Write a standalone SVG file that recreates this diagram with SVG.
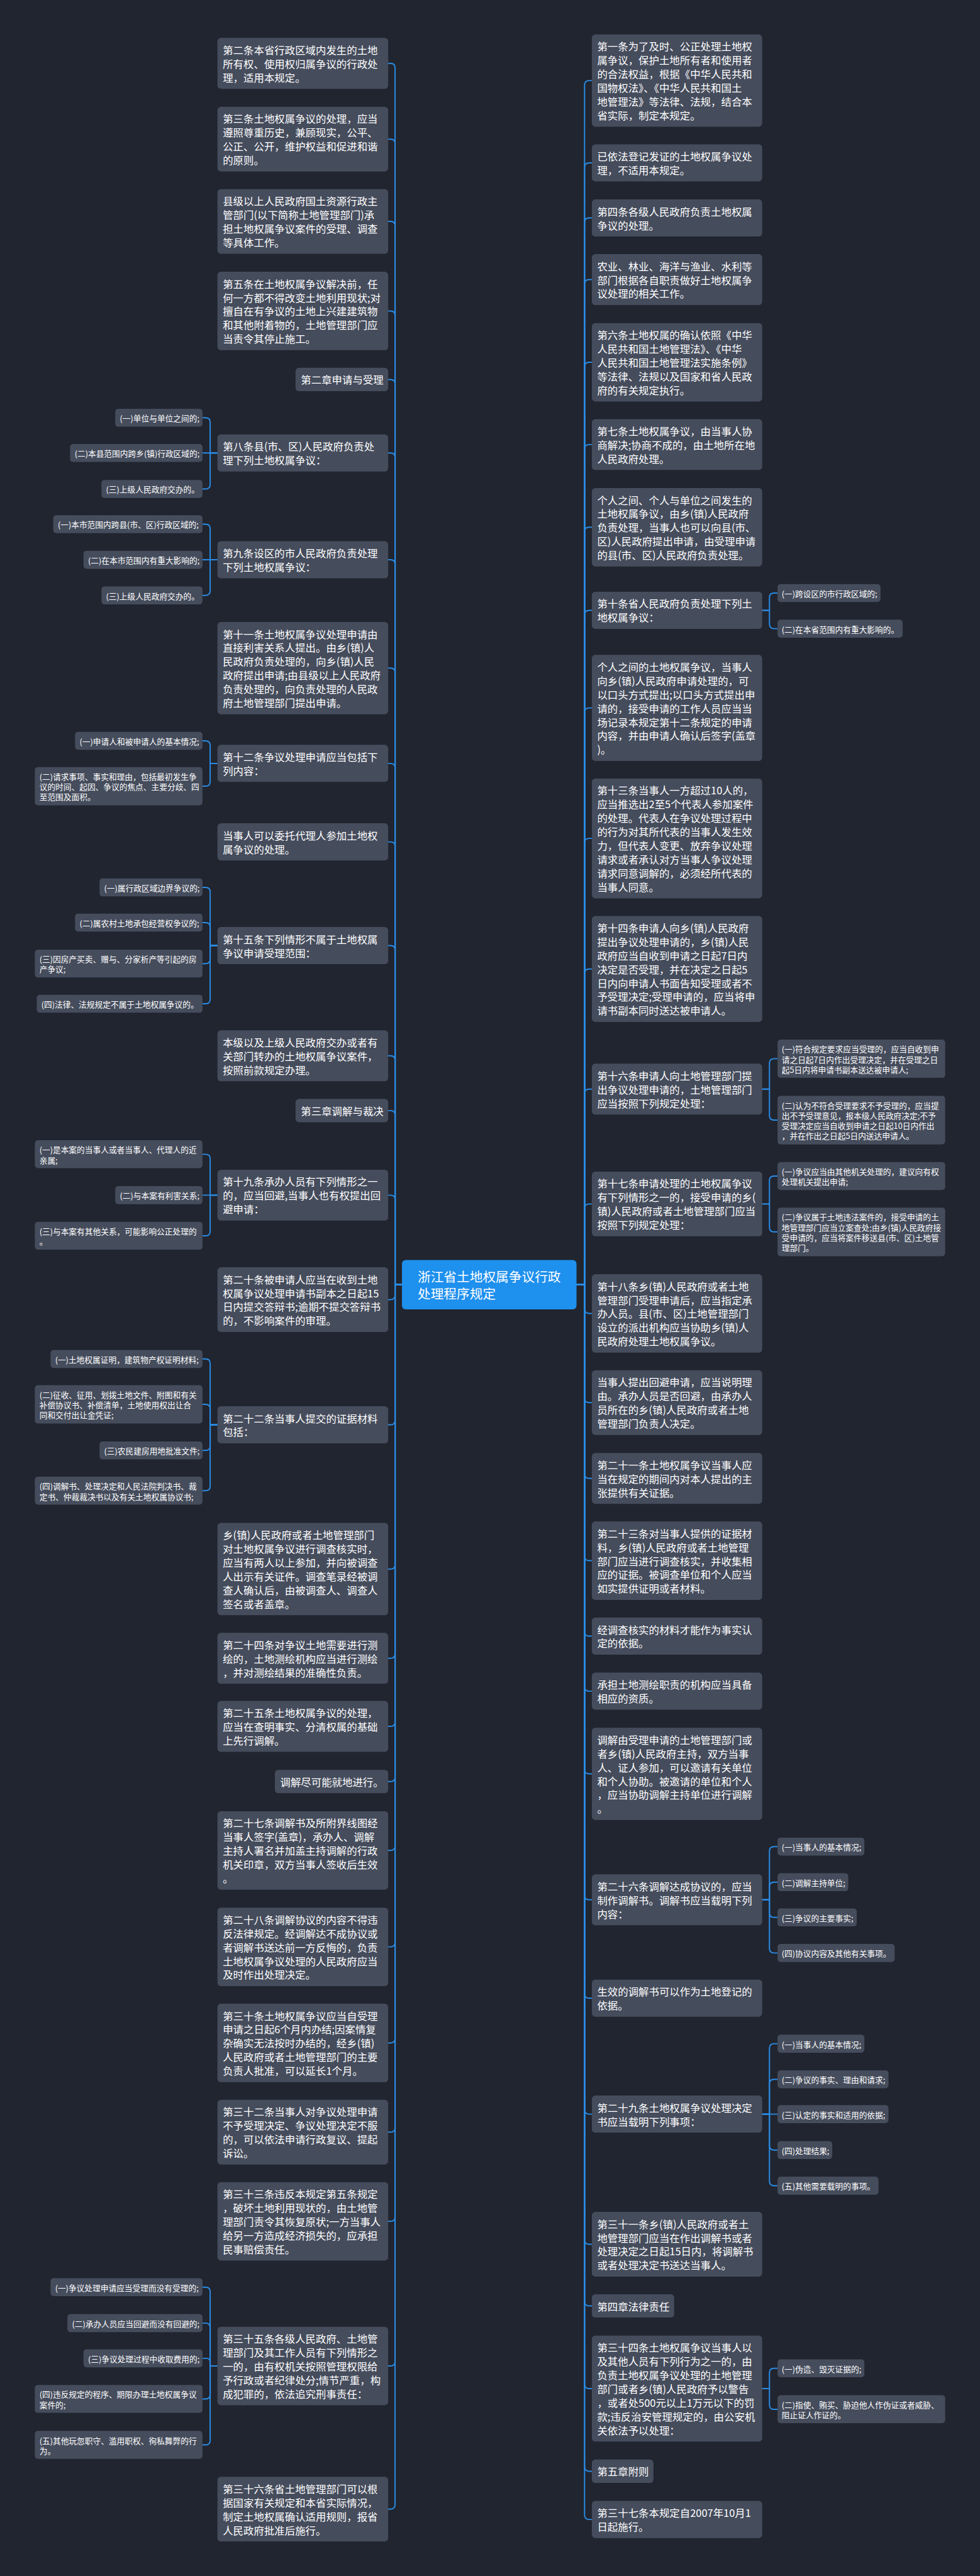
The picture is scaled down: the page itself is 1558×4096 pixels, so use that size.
<svg xmlns="http://www.w3.org/2000/svg" width="1558" height="4096" viewBox="0 0 1558 4096">
<style>
.bg{fill:#21252f}
.n{fill:#454c5c}
.cn{fill:#1e90ee}
.t{font-family:'Noto Sans CJK SC','Noto Sans',sans-serif;font-size:27px;fill:#ffffff;dominant-baseline:central}
.lt{font-family:'Noto Sans CJK SC','Noto Sans',sans-serif;font-size:20.9px;fill:#ffffff;dominant-baseline:central}
.ct{font-family:'Noto Sans CJK SC','Noto Sans',sans-serif;font-size:34px;fill:#ffffff;dominant-baseline:central}
.c{fill:none;stroke:#2a8ce6;stroke-width:3.2;stroke-linecap:round;stroke-linejoin:round}
</style>
<rect class="bg" x="0" y="0" width="1558" height="4096"/>
<g transform="scale(0.6086)">
<g id="connectors">
<path class="c" d="M1050 3356H1032V177.5Q1032 165.5 1020 165.5H1014"/>
<path class="c" d="M1050 3356H1032V375.5Q1032 363.5 1020 363.5H1014"/>
<path class="c" d="M1050 3356H1032V590.5Q1032 578.5 1020 578.5H1014"/>
<path class="c" d="M1050 3356H1032V824.5Q1032 812.5 1020 812.5H1014"/>
<path class="c" d="M1050 3356H1032V1003.5Q1032 991.5 1020 991.5H1014"/>
<path class="c" d="M1050 3356H1032V1195.5Q1032 1183.5 1020 1183.5H1014"/>
<path class="c" d="M1050 3356H1032V1474.5Q1032 1462.5 1020 1462.5H1014"/>
<path class="c" d="M1050 3356H1032V1757.5Q1032 1745.5 1020 1745.5H1014"/>
<path class="c" d="M1050 3356H1032V2006.5Q1032 1994.5 1020 1994.5H1014"/>
<path class="c" d="M1050 3356H1032V2211.5Q1032 2199.5 1020 2199.5H1014"/>
<path class="c" d="M1050 3356H1032V2482.5Q1032 2470.5 1020 2470.5H1014"/>
<path class="c" d="M1050 3356H1032V2770.5Q1032 2758.5 1020 2758.5H1014"/>
<path class="c" d="M1050 3356H1032V2913.5Q1032 2901.5 1020 2901.5H1014"/>
<path class="c" d="M1050 3356H1032V3134.5Q1032 3122.5 1020 3122.5H1014"/>
<path class="c" d="M1050 3356H1032V3383.5Q1032 3395.5 1020 3395.5H1014"/>
<path class="c" d="M1050 3356H1032V3710.5Q1032 3722.5 1020 3722.5H1014"/>
<path class="c" d="M1050 3356H1032V4087.5Q1032 4099.5 1020 4099.5H1014"/>
<path class="c" d="M1050 3356H1032V4320.5Q1032 4332.5 1020 4332.5H1014"/>
<path class="c" d="M1050 3356H1032V4498.5Q1032 4510.5 1020 4510.5H1014"/>
<path class="c" d="M1050 3356H1032V4642.5Q1032 4654.5 1020 4654.5H1014"/>
<path class="c" d="M1050 3356H1032V4822.5Q1032 4834.5 1020 4834.5H1014"/>
<path class="c" d="M1050 3356H1032V5074.5Q1032 5086.5 1020 5086.5H1014"/>
<path class="c" d="M1050 3356H1032V5325.5Q1032 5337.5 1020 5337.5H1014"/>
<path class="c" d="M1050 3356H1032V5558.5Q1032 5570.5 1020 5570.5H1014"/>
<path class="c" d="M1050 3356H1032V5791.5Q1032 5803.5 1020 5803.5H1014"/>
<path class="c" d="M1050 3356H1032V6169.5Q1032 6181.5 1020 6181.5H1014"/>
<path class="c" d="M1050 3356H1032V6543.5Q1032 6555.5 1020 6555.5H1014"/>
<path class="c" d="M1506 3356H1527V222.5Q1527 210.5 1539 210.5H1546"/>
<path class="c" d="M1506 3356H1527V437.5Q1527 425.5 1539 425.5H1546"/>
<path class="c" d="M1506 3356H1527V581.5Q1527 569.5 1539 569.5H1546"/>
<path class="c" d="M1506 3356H1527V742.5Q1527 730.5 1539 730.5H1546"/>
<path class="c" d="M1506 3356H1527V958.5Q1527 946.5 1539 946.5H1546"/>
<path class="c" d="M1506 3356H1527V1173.5Q1527 1161.5 1539 1161.5H1546"/>
<path class="c" d="M1506 3356H1527V1389.5Q1527 1377.5 1539 1377.5H1546"/>
<path class="c" d="M1506 3356H1527V1606.5Q1527 1594.5 1539 1594.5H1546"/>
<path class="c" d="M1506 3356H1527V1861.5Q1527 1849.5 1539 1849.5H1546"/>
<path class="c" d="M1506 3356H1527V2202.5Q1527 2190.5 1539 2190.5H1546"/>
<path class="c" d="M1506 3356H1527V2543.5Q1527 2531.5 1539 2531.5H1546"/>
<path class="c" d="M1506 3356H1527V2857.5Q1527 2845.5 1539 2845.5H1546"/>
<path class="c" d="M1506 3356H1527V3157.5Q1527 3145.5 1539 3145.5H1546"/>
<path class="c" d="M1506 3356H1527V3419.5Q1527 3431.5 1539 3431.5H1546"/>
<path class="c" d="M1506 3356H1527V3652.5Q1527 3664.5 1539 3664.5H1546"/>
<path class="c" d="M1506 3356H1527V3850.5Q1527 3862.5 1539 3862.5H1546"/>
<path class="c" d="M1506 3356H1527V4065.5Q1527 4077.5 1539 4077.5H1546"/>
<path class="c" d="M1506 3356H1527V4262.5Q1527 4274.5 1539 4274.5H1546"/>
<path class="c" d="M1506 3356H1527V4406.5Q1527 4418.5 1539 4418.5H1546"/>
<path class="c" d="M1506 3356H1527V4622.5Q1527 4634.5 1539 4634.5H1546"/>
<path class="c" d="M1506 3356H1527V4951.5Q1527 4963.5 1539 4963.5H1546"/>
<path class="c" d="M1506 3356H1527V5208.5Q1527 5220.5 1539 5220.5H1546"/>
<path class="c" d="M1506 3356H1527V5511.5Q1527 5523.5 1539 5523.5H1546"/>
<path class="c" d="M1506 3356H1527V5851.5Q1527 5863.5 1539 5863.5H1546"/>
<path class="c" d="M1506 3356H1527V6012.5Q1527 6024.5 1539 6024.5H1546"/>
<path class="c" d="M1506 3356H1527V6228.5Q1527 6240.5 1539 6240.5H1546"/>
<path class="c" d="M1506 3356H1527V6444.5Q1527 6456.5 1539 6456.5H1546"/>
<path class="c" d="M1506 3356H1527V6570.5Q1527 6582.5 1539 6582.5H1546"/>
<path class="c" d="M568 1183.5H549V1103.5Q549 1091.5 537 1091.5H529"/>
<path class="c" d="M568 1183.5H529"/>
<path class="c" d="M568 1183.5H549V1265.5Q549 1277.5 537 1277.5H529"/>
<path class="c" d="M568 1462.5H549V1381.5Q549 1369.5 537 1369.5H529"/>
<path class="c" d="M568 1462.5H529"/>
<path class="c" d="M568 1462.5H549V1543.5Q549 1555.5 537 1555.5H529"/>
<path class="c" d="M568 1994.5H549V1947.5Q549 1935.5 537 1935.5H529"/>
<path class="c" d="M568 1994.5H549V2042Q549 2054 537 2054H529"/>
<path class="c" d="M568 2470.5H549V2330.5Q549 2318.5 537 2318.5H529"/>
<path class="c" d="M568 2470.5H549V2422.5Q549 2410.5 537 2410.5H529"/>
<path class="c" d="M568 2470.5H549V2505.7Q549 2517.7 537 2517.7H529"/>
<path class="c" d="M568 2470.5H549V2610.5Q549 2622.5 537 2622.5H529"/>
<path class="c" d="M568 3122.5H549V3027.7Q549 3015.7 537 3015.7H529"/>
<path class="c" d="M568 3122.5H529"/>
<path class="c" d="M568 3122.5H549V3216.7Q549 3228.7 537 3228.7H529"/>
<path class="c" d="M568 3722.5H549V3562.5Q549 3550.5 537 3550.5H529"/>
<path class="c" d="M568 3722.5H549V3681Q549 3669 537 3669H529"/>
<path class="c" d="M568 3722.5H549V3777.5Q549 3789.5 537 3789.5H529"/>
<path class="c" d="M568 3722.5H549V3882.7Q549 3894.7 537 3894.7H529"/>
<path class="c" d="M568 6181.5H549V5987.5Q549 5975.5 537 5975.5H529"/>
<path class="c" d="M568 6181.5H549V6081.5Q549 6069.5 537 6069.5H529"/>
<path class="c" d="M568 6181.5H549V6171.5Q549 6161.5 539 6161.5H529"/>
<path class="c" d="M568 6181.5H549V6255.7Q549 6267.7 537 6267.7H529"/>
<path class="c" d="M568 6181.5H549V6375.7Q549 6387.7 537 6387.7H529"/>
<path class="c" d="M1991 1594.5H2010V1561.5Q2010 1549.5 2022 1549.5H2031"/>
<path class="c" d="M1991 1594.5H2010V1630.5Q2010 1642.5 2022 1642.5H2031"/>
<path class="c" d="M1991 2845.5H2010V2778Q2010 2766 2022 2766H2031"/>
<path class="c" d="M1991 2845.5H2010V2914.5Q2010 2926.5 2022 2926.5H2031"/>
<path class="c" d="M1991 3145.5H2010V3084.7Q2010 3072.7 2022 3072.7H2031"/>
<path class="c" d="M1991 3145.5H2010V3206.5Q2010 3218.5 2022 3218.5H2031"/>
<path class="c" d="M1991 4963.5H2010V4836.5Q2010 4824.5 2022 4824.5H2031"/>
<path class="c" d="M1991 4963.5H2010V4929.5Q2010 4917.5 2022 4917.5H2031"/>
<path class="c" d="M1991 4963.5H2010V4997.5Q2010 5009.5 2022 5009.5H2031"/>
<path class="c" d="M1991 4963.5H2010V5090.5Q2010 5102.5 2022 5102.5H2031"/>
<path class="c" d="M1991 5523.5H2010V5351.5Q2010 5339.5 2022 5339.5H2031"/>
<path class="c" d="M1991 5523.5H2010V5444.5Q2010 5432.5 2022 5432.5H2031"/>
<path class="c" d="M1991 5523.5H2031"/>
<path class="c" d="M1991 5523.5H2010V5605.5Q2010 5617.5 2022 5617.5H2031"/>
<path class="c" d="M1991 5523.5H2010V5698.5Q2010 5710.5 2022 5710.5H2031"/>
<path class="c" d="M1991 6240.5H2010V6199.5Q2010 6187.5 2022 6187.5H2031"/>
<path class="c" d="M1991 6240.5H2010V6282.7Q2010 6294.7 2022 6294.7H2031"/>
</g>

<g id="center"><rect class="cn" x="1050" y="3292" width="456" height="129" rx="10"/><text class="ct"><tspan x="1091" y="3334">浙江省土地权属争议行政</tspan><tspan x="1091" y="3379">处理程序规定</tspan></text></g>

<g id="L1"><rect class="n" x="568" y="99" width="446" height="133" rx="9"/><text class="t"><tspan x="582" y="129.5">第二条本省行政区域内发生的土地</tspan><tspan x="582" y="165.5">所有权、使用权归属争议的行政处</tspan><tspan x="582" y="201.5">理，适用本规定。</tspan></text></g>
<g id="L2"><rect class="n" x="568" y="279" width="446" height="169" rx="9"/><text class="t"><tspan x="582" y="309.5">第三条土地权属争议的处理，应当</tspan><tspan x="582" y="345.5">遵照尊重历史，兼顾现实，公平、</tspan><tspan x="582" y="381.5">公正、公开，维护权益和促进和谐</tspan><tspan x="582" y="417.5">的原则。</tspan></text></g>
<g id="L3"><rect class="n" x="568" y="494" width="446" height="169" rx="9"/><text class="t"><tspan x="582" y="524.5">县级以上人民政府国土资源行政主</tspan><tspan x="582" y="560.5">管部门(以下简称土地管理部门)承</tspan><tspan x="582" y="596.5">担土地权属争议案件的受理、调查</tspan><tspan x="582" y="632.5">等具体工作。</tspan></text></g>
<g id="L4"><rect class="n" x="568" y="710" width="446" height="205" rx="9"/><text class="t"><tspan x="582" y="740.5">第五条在土地权属争议解决前，任</tspan><tspan x="582" y="776.5">何一方都不得改变土地利用现状;对</tspan><tspan x="582" y="812.5">擅自在有争议的土地上兴建建筑物</tspan><tspan x="582" y="848.5">和其他附着物的，土地管理部门应</tspan><tspan x="582" y="884.5">当责令其停止施工。</tspan></text></g>
<g id="L5"><rect class="n" x="772" y="961" width="242" height="61" rx="9"/><text class="t"><tspan x="786" y="991.5">第二章申请与受理</tspan></text></g>
<g id="L6"><rect class="n" x="568" y="1135" width="446" height="97" rx="9"/><text class="t"><tspan x="582" y="1165.5">第八条县(市、区)人民政府负责处</tspan><tspan x="582" y="1201.5">理下列土地权属争议：</tspan></text></g>
<g id="L7"><rect class="n" x="568" y="1414" width="446" height="97" rx="9"/><text class="t"><tspan x="582" y="1444.5">第九条设区的市人民政府负责处理</tspan><tspan x="582" y="1480.5">下列土地权属争议：</tspan></text></g>
<g id="L8"><rect class="n" x="568" y="1625" width="446" height="241" rx="9"/><text class="t"><tspan x="582" y="1655.5">第十一条土地权属争议处理申请由</tspan><tspan x="582" y="1691.5">直接利害关系人提出。由乡(镇)人</tspan><tspan x="582" y="1727.5">民政府负责处理的，向乡(镇)人民</tspan><tspan x="582" y="1763.5">政府提出申请;由县级以上人民政府</tspan><tspan x="582" y="1799.5">负责处理的，向负责处理的人民政</tspan><tspan x="582" y="1835.5">府土地管理部门提出申请。</tspan></text></g>
<g id="L9"><rect class="n" x="568" y="1946" width="446" height="97" rx="9"/><text class="t"><tspan x="582" y="1976.5">第十二条争议处理申请应当包括下</tspan><tspan x="582" y="2012.5">列内容：</tspan></text></g>
<g id="L10"><rect class="n" x="568" y="2151" width="446" height="97" rx="9"/><text class="t"><tspan x="582" y="2181.5">当事人可以委托代理人参加土地权</tspan><tspan x="582" y="2217.5">属争议的处理。</tspan></text></g>
<g id="L11"><rect class="n" x="568" y="2422" width="446" height="97" rx="9"/><text class="t"><tspan x="582" y="2452.5">第十五条下列情形不属于土地权属</tspan><tspan x="582" y="2488.5">争议申请受理范围：</tspan></text></g>
<g id="L12"><rect class="n" x="568" y="2692" width="446" height="133" rx="9"/><text class="t"><tspan x="582" y="2722.5">本级以及上级人民政府交办或者有</tspan><tspan x="582" y="2758.5">关部门转办的土地权属争议案件，</tspan><tspan x="582" y="2794.5">按照前款规定办理。</tspan></text></g>
<g id="L13"><rect class="n" x="772" y="2871" width="242" height="61" rx="9"/><text class="t"><tspan x="786" y="2901.5">第三章调解与裁决</tspan></text></g>
<g id="L14"><rect class="n" x="568" y="3056" width="446" height="133" rx="9"/><text class="t"><tspan x="582" y="3086.5">第十九条承办人员有下列情形之一</tspan><tspan x="582" y="3122.5">的，应当回避,当事人也有权提出回</tspan><tspan x="582" y="3158.5">避申请：</tspan></text></g>
<g id="L15"><rect class="n" x="568" y="3311" width="446" height="169" rx="9"/><text class="t"><tspan x="582" y="3341.5">第二十条被申请人应当在收到土地</tspan><tspan x="582" y="3377.5">权属争议处理申请书副本之日起15</tspan><tspan x="582" y="3413.5">日内提交答辩书;逾期不提交答辩书</tspan><tspan x="582" y="3449.5">的，不影响案件的审理。</tspan></text></g>
<g id="L16"><rect class="n" x="568" y="3674" width="446" height="97" rx="9"/><text class="t"><tspan x="582" y="3704.5">第二十二条当事人提交的证据材料</tspan><tspan x="582" y="3740.5">包括：</tspan></text></g>
<g id="L17"><rect class="n" x="568" y="3979" width="446" height="241" rx="9"/><text class="t"><tspan x="582" y="4009.5">乡(镇)人民政府或者土地管理部门</tspan><tspan x="582" y="4045.5">对土地权属争议进行调查核实时，</tspan><tspan x="582" y="4081.5">应当有两人以上参加，并向被调查</tspan><tspan x="582" y="4117.5">人出示有关证件。调查笔录经被调</tspan><tspan x="582" y="4153.5">查人确认后，由被调查人、调查人</tspan><tspan x="582" y="4189.5">签名或者盖章。</tspan></text></g>
<g id="L18"><rect class="n" x="568" y="4266" width="446" height="133" rx="9"/><text class="t"><tspan x="582" y="4296.5">第二十四条对争议土地需要进行测</tspan><tspan x="582" y="4332.5">绘的，土地测绘机构应当进行测绘</tspan><tspan x="582" y="4368.5">，并对测绘结果的准确性负责。</tspan></text></g>
<g id="L19"><rect class="n" x="568" y="4444" width="446" height="133" rx="9"/><text class="t"><tspan x="582" y="4474.5">第二十五条土地权属争议的处理，</tspan><tspan x="582" y="4510.5">应当在查明事实、分清权属的基础</tspan><tspan x="582" y="4546.5">上先行调解。</tspan></text></g>
<g id="L20"><rect class="n" x="718" y="4624" width="296" height="61" rx="9"/><text class="t"><tspan x="732" y="4654.5">调解尽可能就地进行。</tspan></text></g>
<g id="L21"><rect class="n" x="568" y="4732" width="446" height="205" rx="9"/><text class="t"><tspan x="582" y="4762.5">第二十七条调解书及所附界线图经</tspan><tspan x="582" y="4798.5">当事人签字(盖章)，承办人、调解</tspan><tspan x="582" y="4834.5">主持人署名并加盖主持调解的行政</tspan><tspan x="582" y="4870.5">机关印章，双方当事人签收后生效</tspan><tspan x="582" y="4906.5">。</tspan></text></g>
<g id="L22"><rect class="n" x="568" y="4984" width="446" height="205" rx="9"/><text class="t"><tspan x="582" y="5014.5">第二十八条调解协议的内容不得违</tspan><tspan x="582" y="5050.5">反法律规定。经调解达不成协议或</tspan><tspan x="582" y="5086.5">者调解书送达前一方反悔的，负责</tspan><tspan x="582" y="5122.5">土地权属争议处理的人民政府应当</tspan><tspan x="582" y="5158.5">及时作出处理决定。</tspan></text></g>
<g id="L23"><rect class="n" x="568" y="5235" width="446" height="205" rx="9"/><text class="t"><tspan x="582" y="5265.5">第三十条土地权属争议应当自受理</tspan><tspan x="582" y="5301.5">申请之日起6个月内办结;因案情复</tspan><tspan x="582" y="5337.5">杂确实无法按时办结的，经乡(镇)</tspan><tspan x="582" y="5373.5">人民政府或者土地管理部门的主要</tspan><tspan x="582" y="5409.5">负责人批准，可以延长1个月。</tspan></text></g>
<g id="L24"><rect class="n" x="568" y="5486" width="446" height="169" rx="9"/><text class="t"><tspan x="582" y="5516.5">第三十二条当事人对争议处理申请</tspan><tspan x="582" y="5552.5">不予受理决定、争议处理决定不服</tspan><tspan x="582" y="5588.5">的，可以依法申请行政复议、提起</tspan><tspan x="582" y="5624.5">诉讼。</tspan></text></g>
<g id="L25"><rect class="n" x="568" y="5701" width="446" height="205" rx="9"/><text class="t"><tspan x="582" y="5731.5">第三十三条违反本规定第五条规定</tspan><tspan x="582" y="5767.5">，破坏土地利用现状的，由土地管</tspan><tspan x="582" y="5803.5">理部门责令其恢复原状;一方当事人</tspan><tspan x="582" y="5839.5">给另一方造成经济损失的，应承担</tspan><tspan x="582" y="5875.5">民事赔偿责任。</tspan></text></g>
<g id="L26"><rect class="n" x="568" y="6079" width="446" height="205" rx="9"/><text class="t"><tspan x="582" y="6109.5">第三十五条各级人民政府、土地管</tspan><tspan x="582" y="6145.5">理部门及其工作人员有下列情形之</tspan><tspan x="582" y="6181.5">一的，由有权机关按照管理权限给</tspan><tspan x="582" y="6217.5">予行政或者纪律处分;情节严重，构</tspan><tspan x="582" y="6253.5">成犯罪的，依法追究刑事责任：</tspan></text></g>
<g id="L27"><rect class="n" x="568" y="6471" width="446" height="169" rx="9"/><text class="t"><tspan x="582" y="6501.5">第三十六条省土地管理部门可以根</tspan><tspan x="582" y="6537.5">据国家有关规定和本省实际情况，</tspan><tspan x="582" y="6573.5">制定土地权属确认适用规则，报省</tspan><tspan x="582" y="6609.5">人民政府批准后施行。</tspan></text></g>

<g id="L6a"><rect class="n" x="301" y="1068" width="228" height="47" rx="8"/><text class="lt"><tspan x="313" y="1091.5">(一)单位与单位之间的;</tspan></text></g>
<g id="L6b"><rect class="n" x="183" y="1160" width="346" height="47" rx="8"/><text class="lt"><tspan x="195" y="1183.5">(二)本县范围内跨乡(镇)行政区域的;</tspan></text></g>
<g id="L6c"><rect class="n" x="265" y="1254" width="264" height="47" rx="8"/><text class="lt"><tspan x="277" y="1277.5">(三)上级人民政府交办的。</tspan></text></g>
<g id="L7a"><rect class="n" x="139" y="1346" width="390" height="47" rx="8"/><text class="lt"><tspan x="151" y="1369.5">(一)本市范围内跨县(市、区)行政区域的;</tspan></text></g>
<g id="L7b"><rect class="n" x="218" y="1439" width="311" height="47" rx="8"/><text class="lt"><tspan x="230" y="1462.5">(二)在本市范围内有重大影响的;</tspan></text></g>
<g id="L7c"><rect class="n" x="265" y="1532" width="264" height="47" rx="8"/><text class="lt"><tspan x="277" y="1555.5">(三)上级人民政府交办的。</tspan></text></g>
<g id="L9a"><rect class="n" x="196" y="1912" width="333" height="47" rx="8"/><text class="lt"><tspan x="208" y="1935.5">(一)申请人和被申请人的基本情况;</tspan></text></g>
<g id="L9b"><rect class="n" x="91" y="2004" width="438" height="100" rx="8"/><text class="lt"><tspan x="103" y="2027.5">(二)请求事项、事实和理由，包括最初发生争</tspan><tspan x="103" y="2054.2">议的时间、起因、争议的焦点、主要分歧、四</tspan><tspan x="103" y="2080.9">至范围及面积。</tspan></text></g>
<g id="L11a"><rect class="n" x="260" y="2295" width="269" height="47" rx="8"/><text class="lt"><tspan x="272" y="2318.5">(一)属行政区域边界争议的;</tspan></text></g>
<g id="L11b"><rect class="n" x="196" y="2387" width="333" height="47" rx="8"/><text class="lt"><tspan x="208" y="2410.5">(二)属农村土地承包经营权争议的;</tspan></text></g>
<g id="L11c"><rect class="n" x="91" y="2481" width="438" height="73" rx="8"/><text class="lt"><tspan x="103" y="2504.5">(三)因房产买卖、赠与、分家析产等引起的房</tspan><tspan x="103" y="2531.2">产争议;</tspan></text></g>
<g id="L11d"><rect class="n" x="96" y="2599" width="433" height="47" rx="8"/><text class="lt"><tspan x="108" y="2622.5">(四)法律、法规规定不属于土地权属争议的。</tspan></text></g>
<g id="L14a"><rect class="n" x="91" y="2979" width="438" height="73" rx="8"/><text class="lt"><tspan x="103" y="3002.5">(一)是本案的当事人或者当事人、代理人的近</tspan><tspan x="103" y="3029.2">亲属;</tspan></text></g>
<g id="L14b"><rect class="n" x="301" y="3099" width="228" height="47" rx="8"/><text class="lt"><tspan x="313" y="3122.5">(二)与本案有利害关系;</tspan></text></g>
<g id="L14c"><rect class="n" x="91" y="3192" width="438" height="73" rx="8"/><text class="lt"><tspan x="103" y="3215.5">(三)与本案有其他关系，可能影响公正处理的</tspan><tspan x="103" y="3242.2">。</tspan></text></g>
<g id="L16a"><rect class="n" x="132" y="3527" width="397" height="47" rx="8"/><text class="lt"><tspan x="144" y="3550.5">(一)土地权属证明，建筑物产权证明材料;</tspan></text></g>
<g id="L16b"><rect class="n" x="91" y="3619" width="438" height="100" rx="8"/><text class="lt"><tspan x="103" y="3642.5">(二)征收、征用、划拨土地文件、附图和有关</tspan><tspan x="103" y="3669.2">补偿协议书、补偿清单，土地使用权出让合</tspan><tspan x="103" y="3695.9">同和交付出让金凭证;</tspan></text></g>
<g id="L16c"><rect class="n" x="260" y="3766" width="269" height="47" rx="8"/><text class="lt"><tspan x="272" y="3789.5">(三)农民建房用地批准文件;</tspan></text></g>
<g id="L16d"><rect class="n" x="91" y="3858" width="438" height="73" rx="8"/><text class="lt"><tspan x="103" y="3881.5">(四)调解书、处理决定和人民法院判决书、裁</tspan><tspan x="103" y="3908.2">定书、仲裁裁决书以及有关土地权属协议书;</tspan></text></g>
<g id="L26a"><rect class="n" x="132" y="5952" width="397" height="47" rx="8"/><text class="lt"><tspan x="144" y="5975.5">(一)争议处理申请应当受理而没有受理的;</tspan></text></g>
<g id="L26b"><rect class="n" x="176" y="6046" width="353" height="47" rx="8"/><text class="lt"><tspan x="188" y="6069.5">(二)承办人员应当回避而没有回避的;</tspan></text></g>
<g id="L26c"><rect class="n" x="218" y="6138" width="311" height="47" rx="8"/><text class="lt"><tspan x="230" y="6161.5">(三)争议处理过程中收取费用的;</tspan></text></g>
<g id="L26d"><rect class="n" x="91" y="6231" width="438" height="73" rx="8"/><text class="lt"><tspan x="103" y="6254.5">(四)违反规定的程序、期限办理土地权属争议</tspan><tspan x="103" y="6281.2">案件的;</tspan></text></g>
<g id="L26e"><rect class="n" x="91" y="6351" width="438" height="73" rx="8"/><text class="lt"><tspan x="103" y="6374.5">(五)其他玩忽职守、滥用职权、徇私舞弊的行</tspan><tspan x="103" y="6401.2">为。</tspan></text></g>

<g id="R1"><rect class="n" x="1546" y="90" width="445" height="241" rx="9"/><text class="t"><tspan x="1560" y="120.5">第一条为了及时、公正处理土地权</tspan><tspan x="1560" y="156.5">属争议，保护土地所有者和使用者</tspan><tspan x="1560" y="192.5">的合法权益，根据《中华人民共和</tspan><tspan x="1560" y="228.5">国物权法》、《中华人民共和国土</tspan><tspan x="1560" y="264.5">地管理法》等法律、法规，结合本</tspan><tspan x="1560" y="300.5">省实际，制定本规定。</tspan></text></g>
<g id="R2"><rect class="n" x="1546" y="377" width="445" height="97" rx="9"/><text class="t"><tspan x="1560" y="407.5">已依法登记发证的土地权属争议处</tspan><tspan x="1560" y="443.5">理，不适用本规定。</tspan></text></g>
<g id="R3"><rect class="n" x="1546" y="521" width="445" height="97" rx="9"/><text class="t"><tspan x="1560" y="551.5">第四条各级人民政府负责土地权属</tspan><tspan x="1560" y="587.5">争议的处理。</tspan></text></g>
<g id="R4"><rect class="n" x="1546" y="664" width="445" height="133" rx="9"/><text class="t"><tspan x="1560" y="694.5">农业、林业、海洋与渔业、水利等</tspan><tspan x="1560" y="730.5">部门根据各自职责做好土地权属争</tspan><tspan x="1560" y="766.5">议处理的相关工作。</tspan></text></g>
<g id="R5"><rect class="n" x="1546" y="844" width="445" height="205" rx="9"/><text class="t"><tspan x="1560" y="874.5">第六条土地权属的确认依照《中华</tspan><tspan x="1560" y="910.5">人民共和国土地管理法》、《中华</tspan><tspan x="1560" y="946.5">人民共和国土地管理法实施条例》</tspan><tspan x="1560" y="982.5">等法律、法规以及国家和省人民政</tspan><tspan x="1560" y="1018.5">府的有关规定执行。</tspan></text></g>
<g id="R6"><rect class="n" x="1546" y="1095" width="445" height="133" rx="9"/><text class="t"><tspan x="1560" y="1125.5">第七条土地权属争议，由当事人协</tspan><tspan x="1560" y="1161.5">商解决;协商不成的，由土地所在地</tspan><tspan x="1560" y="1197.5">人民政府处理。</tspan></text></g>
<g id="R7"><rect class="n" x="1546" y="1275" width="445" height="205" rx="9"/><text class="t"><tspan x="1560" y="1305.5">个人之间、个人与单位之间发生的</tspan><tspan x="1560" y="1341.5">土地权属争议，由乡(镇)人民政府</tspan><tspan x="1560" y="1377.5">负责处理，当事人也可以向县(市、</tspan><tspan x="1560" y="1413.5">区)人民政府提出申请，由受理申请</tspan><tspan x="1560" y="1449.5">的县(市、区)人民政府负责处理。</tspan></text></g>
<g id="R8"><rect class="n" x="1546" y="1546" width="445" height="97" rx="9"/><text class="t"><tspan x="1560" y="1576.5">第十条省人民政府负责处理下列土</tspan><tspan x="1560" y="1612.5">地权属争议：</tspan></text></g>
<g id="R9"><rect class="n" x="1546" y="1711" width="445" height="277" rx="9"/><text class="t"><tspan x="1560" y="1741.5">个人之间的土地权属争议，当事人</tspan><tspan x="1560" y="1777.5">向乡(镇)人民政府申请处理的，可</tspan><tspan x="1560" y="1813.5">以口头方式提出;以口头方式提出申</tspan><tspan x="1560" y="1849.5">请的，接受申请的工作人员应当当</tspan><tspan x="1560" y="1885.5">场记录本规定第十二条规定的申请</tspan><tspan x="1560" y="1921.5">内容，并由申请人确认后签字(盖章</tspan><tspan x="1560" y="1957.5">)。</tspan></text></g>
<g id="R10"><rect class="n" x="1546" y="2034" width="445" height="313" rx="9"/><text class="t"><tspan x="1560" y="2064.5">第十三条当事人一方超过10人的，</tspan><tspan x="1560" y="2100.5">应当推选出2至5个代表人参加案件</tspan><tspan x="1560" y="2136.5">的处理。代表人在争议处理过程中</tspan><tspan x="1560" y="2172.5">的行为对其所代表的当事人发生效</tspan><tspan x="1560" y="2208.5">力，但代表人变更、放弃争议处理</tspan><tspan x="1560" y="2244.5">请求或者承认对方当事人争议处理</tspan><tspan x="1560" y="2280.5">请求同意调解的，必须经所代表的</tspan><tspan x="1560" y="2316.5">当事人同意。</tspan></text></g>
<g id="R11"><rect class="n" x="1546" y="2393" width="445" height="277" rx="9"/><text class="t"><tspan x="1560" y="2423.5">第十四条申请人向乡(镇)人民政府</tspan><tspan x="1560" y="2459.5">提出争议处理申请的，乡(镇)人民</tspan><tspan x="1560" y="2495.5">政府应当自收到申请之日起7日内</tspan><tspan x="1560" y="2531.5">决定是否受理，并在决定之日起5</tspan><tspan x="1560" y="2567.5">日内向申请人书面告知受理或者不</tspan><tspan x="1560" y="2603.5">予受理决定;受理申请的，应当将申</tspan><tspan x="1560" y="2639.5">请书副本同时送达被申请人。</tspan></text></g>
<g id="R12"><rect class="n" x="1546" y="2779" width="445" height="133" rx="9"/><text class="t"><tspan x="1560" y="2809.5">第十六条申请人向土地管理部门提</tspan><tspan x="1560" y="2845.5">出争议处理申请的，土地管理部门</tspan><tspan x="1560" y="2881.5">应当按照下列规定处理：</tspan></text></g>
<g id="R13"><rect class="n" x="1546" y="3061" width="445" height="169" rx="9"/><text class="t"><tspan x="1560" y="3091.5">第十七条申请处理的土地权属争议</tspan><tspan x="1560" y="3127.5">有下列情形之一的，接受申请的乡(</tspan><tspan x="1560" y="3163.5">镇)人民政府或者土地管理部门应当</tspan><tspan x="1560" y="3199.5">按照下列规定处理：</tspan></text></g>
<g id="R14"><rect class="n" x="1546" y="3329" width="445" height="205" rx="9"/><text class="t"><tspan x="1560" y="3359.5">第十八条乡(镇)人民政府或者土地</tspan><tspan x="1560" y="3395.5">管理部门受理申请后，应当指定承</tspan><tspan x="1560" y="3431.5">办人员。县(市、区)土地管理部门</tspan><tspan x="1560" y="3467.5">设立的派出机构应当协助乡(镇)人</tspan><tspan x="1560" y="3503.5">民政府处理土地权属争议。</tspan></text></g>
<g id="R15"><rect class="n" x="1546" y="3580" width="445" height="169" rx="9"/><text class="t"><tspan x="1560" y="3610.5">当事人提出回避申请，应当说明理</tspan><tspan x="1560" y="3646.5">由。承办人员是否回避，由承办人</tspan><tspan x="1560" y="3682.5">员所在的乡(镇)人民政府或者土地</tspan><tspan x="1560" y="3718.5">管理部门负责人决定。</tspan></text></g>
<g id="R16"><rect class="n" x="1546" y="3796" width="445" height="133" rx="9"/><text class="t"><tspan x="1560" y="3826.5">第二十一条土地权属争议当事人应</tspan><tspan x="1560" y="3862.5">当在规定的期间内对本人提出的主</tspan><tspan x="1560" y="3898.5">张提供有关证据。</tspan></text></g>
<g id="R17"><rect class="n" x="1546" y="3975" width="445" height="205" rx="9"/><text class="t"><tspan x="1560" y="4005.5">第二十三条对当事人提供的证据材</tspan><tspan x="1560" y="4041.5">料，乡(镇)人民政府或者土地管理</tspan><tspan x="1560" y="4077.5">部门应当进行调查核实，并收集相</tspan><tspan x="1560" y="4113.5">应的证据。被调查单位和个人应当</tspan><tspan x="1560" y="4149.5">如实提供证明或者材料。</tspan></text></g>
<g id="R18"><rect class="n" x="1546" y="4226" width="445" height="97" rx="9"/><text class="t"><tspan x="1560" y="4256.5">经调查核实的材料才能作为事实认</tspan><tspan x="1560" y="4292.5">定的依据。</tspan></text></g>
<g id="R19"><rect class="n" x="1546" y="4370" width="445" height="97" rx="9"/><text class="t"><tspan x="1560" y="4400.5">承担土地测绘职责的机构应当具备</tspan><tspan x="1560" y="4436.5">相应的资质。</tspan></text></g>
<g id="R20"><rect class="n" x="1546" y="4514" width="445" height="241" rx="9"/><text class="t"><tspan x="1560" y="4544.5">调解由受理申请的土地管理部门或</tspan><tspan x="1560" y="4580.5">者乡(镇)人民政府主持，双方当事</tspan><tspan x="1560" y="4616.5">人、证人参加，可以邀请有关单位</tspan><tspan x="1560" y="4652.5">和个人协助。被邀请的单位和个人</tspan><tspan x="1560" y="4688.5">，应当协助调解主持单位进行调解</tspan><tspan x="1560" y="4724.5">。</tspan></text></g>
<g id="R21"><rect class="n" x="1546" y="4897" width="445" height="133" rx="9"/><text class="t"><tspan x="1560" y="4927.5">第二十六条调解达成协议的，应当</tspan><tspan x="1560" y="4963.5">制作调解书。调解书应当载明下列</tspan><tspan x="1560" y="4999.5">内容：</tspan></text></g>
<g id="R22"><rect class="n" x="1546" y="5172" width="445" height="97" rx="9"/><text class="t"><tspan x="1560" y="5202.5">生效的调解书可以作为土地登记的</tspan><tspan x="1560" y="5238.5">依据。</tspan></text></g>
<g id="R23"><rect class="n" x="1546" y="5475" width="445" height="97" rx="9"/><text class="t"><tspan x="1560" y="5505.5">第二十九条土地权属争议处理决定</tspan><tspan x="1560" y="5541.5">书应当载明下列事项：</tspan></text></g>
<g id="R24"><rect class="n" x="1546" y="5779" width="445" height="169" rx="9"/><text class="t"><tspan x="1560" y="5809.5">第三十一条乡(镇)人民政府或者土</tspan><tspan x="1560" y="5845.5">地管理部门应当在作出调解书或者</tspan><tspan x="1560" y="5881.5">处理决定之日起15日内，将调解书</tspan><tspan x="1560" y="5917.5">或者处理决定书送达当事人。</tspan></text></g>
<g id="R25"><rect class="n" x="1546" y="5994" width="215" height="61" rx="9"/><text class="t"><tspan x="1560" y="6024.5">第四章法律责任</tspan></text></g>
<g id="R26"><rect class="n" x="1546" y="6102" width="445" height="277" rx="9"/><text class="t"><tspan x="1560" y="6132.5">第三十四条土地权属争议当事人以</tspan><tspan x="1560" y="6168.5">及其他人员有下列行为之一的，由</tspan><tspan x="1560" y="6204.5">负责土地权属争议处理的土地管理</tspan><tspan x="1560" y="6240.5">部门或者乡(镇)人民政府予以警告</tspan><tspan x="1560" y="6276.5">，或者处500元以上1万元以下的罚</tspan><tspan x="1560" y="6312.5">款;违反治安管理规定的，由公安机</tspan><tspan x="1560" y="6348.5">关依法予以处理：</tspan></text></g>
<g id="R27"><rect class="n" x="1546" y="6426" width="161" height="61" rx="9"/><text class="t"><tspan x="1560" y="6456.5">第五章附则</tspan></text></g>
<g id="R28"><rect class="n" x="1546" y="6534" width="445" height="97" rx="9"/><text class="t"><tspan x="1560" y="6564.5">第三十七条本规定自2007年10月1</tspan><tspan x="1560" y="6600.5">日起施行。</tspan></text></g>

<g id="R8a"><rect class="n" x="2031" y="1526" width="269" height="47" rx="8"/><text class="lt"><tspan x="2042" y="1549.5">(一)跨设区的市行政区域的;</tspan></text></g>
<g id="R8b"><rect class="n" x="2031" y="1619" width="327" height="47" rx="8"/><text class="lt"><tspan x="2042" y="1642.5">(二)在本省范围内有重大影响的。</tspan></text></g>
<g id="R12a"><rect class="n" x="2031" y="2716" width="438" height="100" rx="8"/><text class="lt"><tspan x="2042" y="2739.5">(一)符合规定要求应当受理的，应当自收到申</tspan><tspan x="2042" y="2766.2">请之日起7日内作出受理决定，并在受理之日</tspan><tspan x="2042" y="2792.9">起5日内将申请书副本送达被申请人;</tspan></text></g>
<g id="R12b"><rect class="n" x="2031" y="2863" width="438" height="127" rx="8"/><text class="lt"><tspan x="2042" y="2886.5">(二)认为不符合受理要求不予受理的，应当提</tspan><tspan x="2042" y="2913.2">出不予受理意见，报本级人民政府决定;不予</tspan><tspan x="2042" y="2939.9">受理决定应当自收到申请之日起10日内作出</tspan><tspan x="2042" y="2966.6">，并在作出之日起5日内送达申请人。</tspan></text></g>
<g id="R13a"><rect class="n" x="2031" y="3036" width="438" height="73" rx="8"/><text class="lt"><tspan x="2042" y="3059.5">(一)争议应当由其他机关处理的，建议向有权</tspan><tspan x="2042" y="3086.2">处理机关提出申请;</tspan></text></g>
<g id="R13b"><rect class="n" x="2031" y="3155" width="438" height="127" rx="8"/><text class="lt"><tspan x="2042" y="3178.5">(二)争议属于土地违法案件的，接受申请的土</tspan><tspan x="2042" y="3205.2">地管理部门应当立案查处;由乡(镇)人民政府接</tspan><tspan x="2042" y="3231.9">受申请的，应当将案件移送县(市、区)土地管</tspan><tspan x="2042" y="3258.6">理部门。</tspan></text></g>
<g id="R21a"><rect class="n" x="2031" y="4801" width="227" height="47" rx="8"/><text class="lt"><tspan x="2042" y="4824.5">(一)当事人的基本情况;</tspan></text></g>
<g id="R21b"><rect class="n" x="2031" y="4894" width="185" height="47" rx="8"/><text class="lt"><tspan x="2042" y="4917.5">(二)调解主持单位;</tspan></text></g>
<g id="R21c"><rect class="n" x="2031" y="4986" width="207" height="47" rx="8"/><text class="lt"><tspan x="2042" y="5009.5">(三)争议的主要事实;</tspan></text></g>
<g id="R21d"><rect class="n" x="2031" y="5079" width="306" height="47" rx="8"/><text class="lt"><tspan x="2042" y="5102.5">(四)协议内容及其他有关事项。</tspan></text></g>
<g id="R23a"><rect class="n" x="2031" y="5316" width="227" height="47" rx="8"/><text class="lt"><tspan x="2042" y="5339.5">(一)当事人的基本情况;</tspan></text></g>
<g id="R23b"><rect class="n" x="2031" y="5409" width="290" height="47" rx="8"/><text class="lt"><tspan x="2042" y="5432.5">(二)争议的事实、理由和请求;</tspan></text></g>
<g id="R23c"><rect class="n" x="2031" y="5500" width="290" height="47" rx="8"/><text class="lt"><tspan x="2042" y="5523.5">(三)认定的事实和适用的依据;</tspan></text></g>
<g id="R23d"><rect class="n" x="2031" y="5594" width="143" height="47" rx="8"/><text class="lt"><tspan x="2042" y="5617.5">(四)处理结果;</tspan></text></g>
<g id="R23e"><rect class="n" x="2031" y="5687" width="264" height="47" rx="8"/><text class="lt"><tspan x="2042" y="5710.5">(五)其他需要载明的事项。</tspan></text></g>
<g id="R26a"><rect class="n" x="2031" y="6164" width="227" height="47" rx="8"/><text class="lt"><tspan x="2042" y="6187.5">(一)伪造、毁灭证据的;</tspan></text></g>
<g id="R26b"><rect class="n" x="2031" y="6258" width="438" height="73" rx="8"/><text class="lt"><tspan x="2042" y="6281.5">(二)指使、贿买、胁迫他人作伪证或者威胁、</tspan><tspan x="2042" y="6308.2">阻止证人作证的。</tspan></text></g>
</g>
</svg>
